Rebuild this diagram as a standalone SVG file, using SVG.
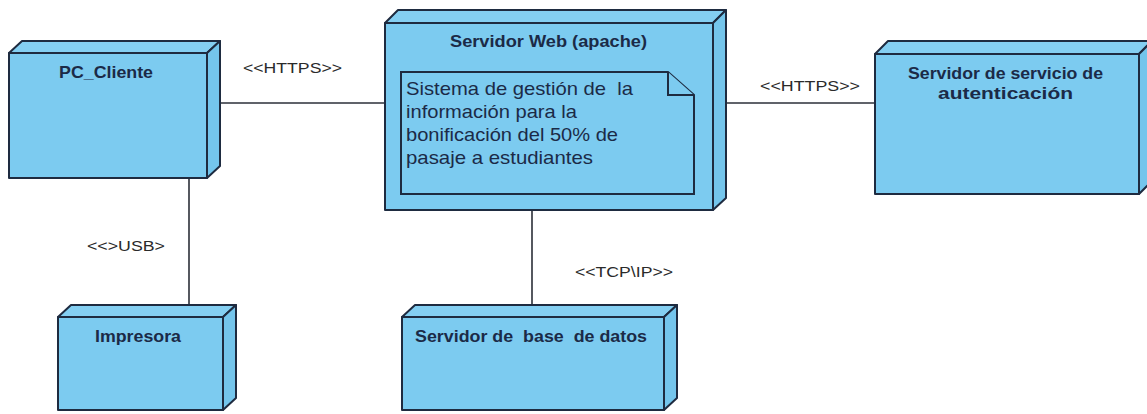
<svg xmlns="http://www.w3.org/2000/svg" width="1147" height="414" viewBox="0 0 1147 414">
  <style>
    .face { fill: #7ccbf0; stroke: #1e2b40; stroke-width: 2; stroke-linejoin: round; }
    .top { fill: #84cff2; stroke: #1e2b40; stroke-width: 2; stroke-linejoin: round; }
    .side { fill: #74c5ec; stroke: #1e2b40; stroke-width: 2; stroke-linejoin: round; }
    .note { fill: #7ccbf0; stroke: #1e2b40; stroke-width: 2; stroke-linejoin: miter; }
    .title { font-family: "Liberation Sans", Arial, sans-serif; font-weight: bold; font-size: 16.5px; fill: #1b2a47; white-space: pre; }
    .body { font-family: "Liberation Sans", Arial, sans-serif; font-size: 18.5px; fill: #1b2a47; white-space: pre; }
    .lbl { font-family: "Liberation Sans", Arial, sans-serif; font-size: 15px; fill: #2a2a2a; white-space: pre; }
    .conn { stroke: #2b2f38; stroke-width: 1.6; fill: none; }
  </style>

  <g id="connectors">
    <line class="conn" x1="220" y1="103" x2="385" y2="103"/>
    <line class="conn" x1="726" y1="103" x2="875" y2="103"/>
    <line class="conn" x1="189" y1="178" x2="189" y2="305"/>
    <line class="conn" x1="532" y1="210" x2="532" y2="305"/>
    <text class="lbl" x="243" y="73" textLength="99" lengthAdjust="spacingAndGlyphs">&lt;&lt;HTTPS&gt;&gt;</text>
    <text class="lbl" x="760" y="91" textLength="100" lengthAdjust="spacingAndGlyphs">&lt;&lt;HTTPS&gt;&gt;</text>
    <text class="lbl" x="87" y="251" textLength="78" lengthAdjust="spacingAndGlyphs">&lt;&lt;&gt;USB&gt;</text>
    <text class="lbl" x="575" y="277" textLength="98" lengthAdjust="spacingAndGlyphs">&lt;&lt;TCP\IP&gt;&gt;</text>
  </g>

  <g id="pc-cliente">
    <polygon class="top" points="9,53 22,41 220,41 207,53"/>
    <polygon class="side" points="207,53 220,41 220,166 207,178"/>
    <rect class="face" x="9" y="53" width="198" height="125"/>
    <text class="title" x="59" y="78" textLength="94" lengthAdjust="spacingAndGlyphs">PC_Cliente</text>
  </g>

  <g id="servidor-web">
    <polygon class="top" points="385,23 398,10 726,10 713,23"/>
    <polygon class="side" points="713,23 726,10 726,198 713,210"/>
    <rect class="face" x="385" y="23" width="328" height="187"/>
    <text class="title" x="450" y="47" textLength="197" lengthAdjust="spacingAndGlyphs">Servidor Web (apache)</text>
    <g id="artefacto">
      <polygon class="note" points="401,72 668,72 694,95 694,194 401,194"/>
      <polyline class="note" points="668,72 668,95 694,95" fill="none"/>
      <text class="body" x="406" y="95" textLength="227" lengthAdjust="spacingAndGlyphs">Sistema de gestión de  la</text>
      <text class="body" x="406" y="118" textLength="171" lengthAdjust="spacingAndGlyphs">información para la</text>
      <text class="body" x="406" y="141" textLength="212" lengthAdjust="spacingAndGlyphs">bonificación del 50% de</text>
      <text class="body" x="406" y="164" textLength="187" lengthAdjust="spacingAndGlyphs">pasaje a estudiantes</text>
    </g>
  </g>

  <g id="servidor-autenticacion">
    <polygon class="top" points="875,54 888,41 1152,41 1139,54"/>
    <polygon class="side" points="1139,54 1152,41 1152,181 1139,194"/>
    <rect class="face" x="875" y="54" width="264" height="140"/>
    <text class="title" x="908" y="79" textLength="195" lengthAdjust="spacingAndGlyphs">Servidor de servicio de</text>
    <text class="title" x="938" y="99" textLength="135" lengthAdjust="spacingAndGlyphs">autenticación</text>
  </g>

  <g id="impresora">
    <polygon class="top" points="58,317 71,305 236,305 223,317"/>
    <polygon class="side" points="223,317 236,305 236,398 223,410"/>
    <rect class="face" x="58" y="317" width="165" height="93"/>
    <text class="title" x="95" y="342" textLength="86" lengthAdjust="spacingAndGlyphs">Impresora</text>
  </g>

  <g id="servidor-bd">
    <polygon class="top" points="402,317 415,305 677,305 664,317"/>
    <polygon class="side" points="664,317 677,305 677,398 664,410"/>
    <rect class="face" x="402" y="317" width="262" height="93"/>
    <text class="title" x="415" y="342" textLength="232" lengthAdjust="spacingAndGlyphs">Servidor de  base  de datos</text>
  </g>
</svg>
